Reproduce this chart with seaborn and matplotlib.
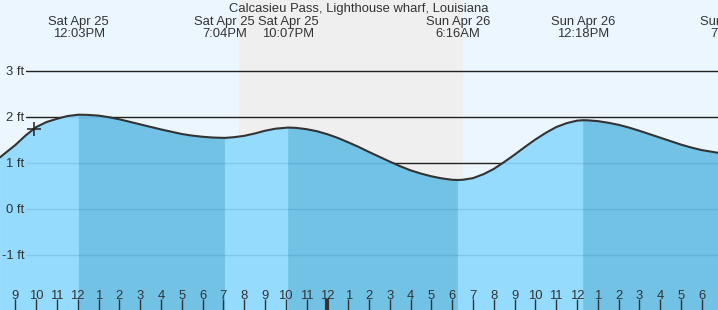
import numpy as np
import matplotlib
matplotlib.use("Agg")
import matplotlib.pyplot as plt
import matplotlib.transforms as mtransforms
import seaborn as sns

# ---- data (hours counted from Sat Apr 25 00:00) ----
times = np.array([8.26, 8.5, 9, 9.5, 10, 10.5, 11, 11.5, 12.05, 12.5, 13, 13.5, 14, 14.5,
                  15, 15.5, 16, 16.5, 17, 17.5, 18, 18.5, 19.07, 19.5, 20, 20.5, 21, 21.5,
                  22.12, 22.5, 23, 23.5, 24, 24.5, 25, 25.5, 26, 26.5, 27, 27.5, 28, 28.5,
                  29, 29.5, 30, 30.27, 30.5, 31, 31.5, 32, 32.5, 33, 33.5, 34, 34.5, 35,
                  35.5, 36, 36.3, 36.5, 37, 37.5, 38, 38.5, 39, 39.5, 40, 40.5, 41, 41.5,
                  42, 42.8])
heights = np.array([1.12, 1.21, 1.39, 1.60, 1.78, 1.89, 1.96, 2.02, 2.05, 2.045, 2.03, 1.995, 1.95, 1.895,
                    1.84, 1.785, 1.73, 1.68, 1.63, 1.595, 1.57, 1.553, 1.545, 1.56, 1.59, 1.64, 1.70, 1.745,
                    1.77, 1.763, 1.735, 1.69, 1.625, 1.545, 1.45, 1.35, 1.24, 1.135, 1.03, 0.93, 0.84, 0.77,
                    0.71, 0.665, 0.635, 0.63, 0.635, 0.67, 0.755, 0.87, 1.02, 1.18, 1.35, 1.51, 1.655, 1.78,
                    1.865, 1.92, 1.93, 1.928, 1.91, 1.875, 1.83, 1.77, 1.70, 1.625, 1.55, 1.475, 1.40, 1.335,
                    1.28, 1.22])

extreme_times = [12.05, 19.07, 22.12, 30.27, 36.3, 43.48]
extreme_dates = ["Sat Apr 25", "Sat Apr 25", "Sat Apr 25", "Sun Apr 26", "Sun Apr 26", "Sun Apr 26"]
extreme_labels = ["12:03PM", "7:04PM", "10:07PM", "6:16AM", "12:18PM", "7:29PM"]

night_start, night_end = 19.75, 30.52
now_time, now_height = 9.9, 1.74

levels = [-1, 0, 1, 2, 3]
level_labels = ["-1 ft", "0 ft", "1 ft", "2 ft", "3 ft"]

hour_ticks = list(range(9, 43))
hour_labels = [str((h - 1) % 12 + 1) for h in hour_ticks]

title = "Calcasieu Pass, Lighthouse wharf, Louisiana"

# ---- styling ----
BG = "#ebf6ff"
NIGHT = "#efefef"
LIGHT = "#95dbfd"
DARK = "#72c2e6"
TXT = "#333333"
X0, X1 = 8.264, 42.78
Y0, Y1 = -2.196, 4.543

sns.set_style("white")
plt.rcParams["font.family"] = ["Liberation Sans", "DejaVu Sans"]

fig = plt.figure(figsize=(7.18, 3.10), dpi=100)
ax = fig.add_axes([0, 0, 1, 1])
ax.set_xlim(X0, X1)
ax.set_ylim(Y0, Y1)
ax.set_facecolor(BG)
for s in ax.spines.values():
    s.set_visible(False)

ax.axvspan(night_start, night_end, color=NIGHT, lw=0, zorder=0.2)

for lv in levels:
    ax.axhline(lv, xmin=26 / 718, xmax=1, color="#222222", lw=1, zorder=0.5)

# fills: light = rising, dark = falling
bounds = [X0 - 1] + extreme_times[:5] + [X1 + 1]
for i in range(len(bounds) - 1):
    a, b = bounds[i], bounds[i + 1]
    m = (times >= a) & (times <= b)
    c = LIGHT if i % 2 == 0 else DARK
    ax.fill_between(times[m], heights[m], Y0, facecolor=c, edgecolor=c, lw=0.6, zorder=1)

clip_poly = ax.fill_between(times, heights, Y0, facecolor="none", lw=0, zorder=0)
clip_path = clip_poly.get_paths()[0]
for lv in levels:
    ln = ax.axhline(lv, xmin=26 / 718, xmax=1, color=(0.0, 0.3, 0.5, 0.13), lw=1, zorder=1.2)
    ln.set_clip_path(clip_path, ax.transData)

sns.lineplot(x=times, y=heights, ax=ax, color="#333333", lw=1.5, zorder=3, sort=True)
ax.plot([now_time], [now_height], marker="+", ms=10, mew=1.1, color="#222222", zorder=4)

# axes ticks
ax.set_axisbelow(False)
ax.set_xticks(hour_ticks, hour_labels)
ax.tick_params(axis="x", direction="in", length=8, width=1, color="#333333",
               pad=-14.5, labelsize=9.4, labelcolor=TXT, bottom=True)
ax.set_yticks(levels, level_labels)
ax.tick_params(axis="y", direction="in", length=0, pad=-17.3,
               labelsize=9.4, labelcolor=TXT, left=True)
for tk, h in zip(ax.xaxis.get_major_ticks(), hour_ticks):
    if h == 24:
        tk.tick1line.set_markeredgewidth(3)
ax.set_xlabel("")
ax.set_ylabel("")
ax.grid(False)

trans = mtransforms.blended_transform_factory(ax.transData, ax.transAxes)
for t, d, l in zip(extreme_times, extreme_dates, extreme_labels):
    ax.text(t, 1 - 25 / 310, d, transform=trans, ha="center", va="baseline",
            fontsize=9.4, color=TXT, zorder=5)
    ax.text(t, 1 - 36.7 / 310, l, transform=trans, ha="center", va="baseline",
            fontsize=9.4, color=TXT, zorder=5)
ax.text(0.5, 1 - 12 / 310, title, transform=ax.transAxes, ha="center", va="baseline",
        fontsize=9.4, color=TXT, zorder=5)

fig.savefig("out.png", dpi=100, facecolor=BG)
